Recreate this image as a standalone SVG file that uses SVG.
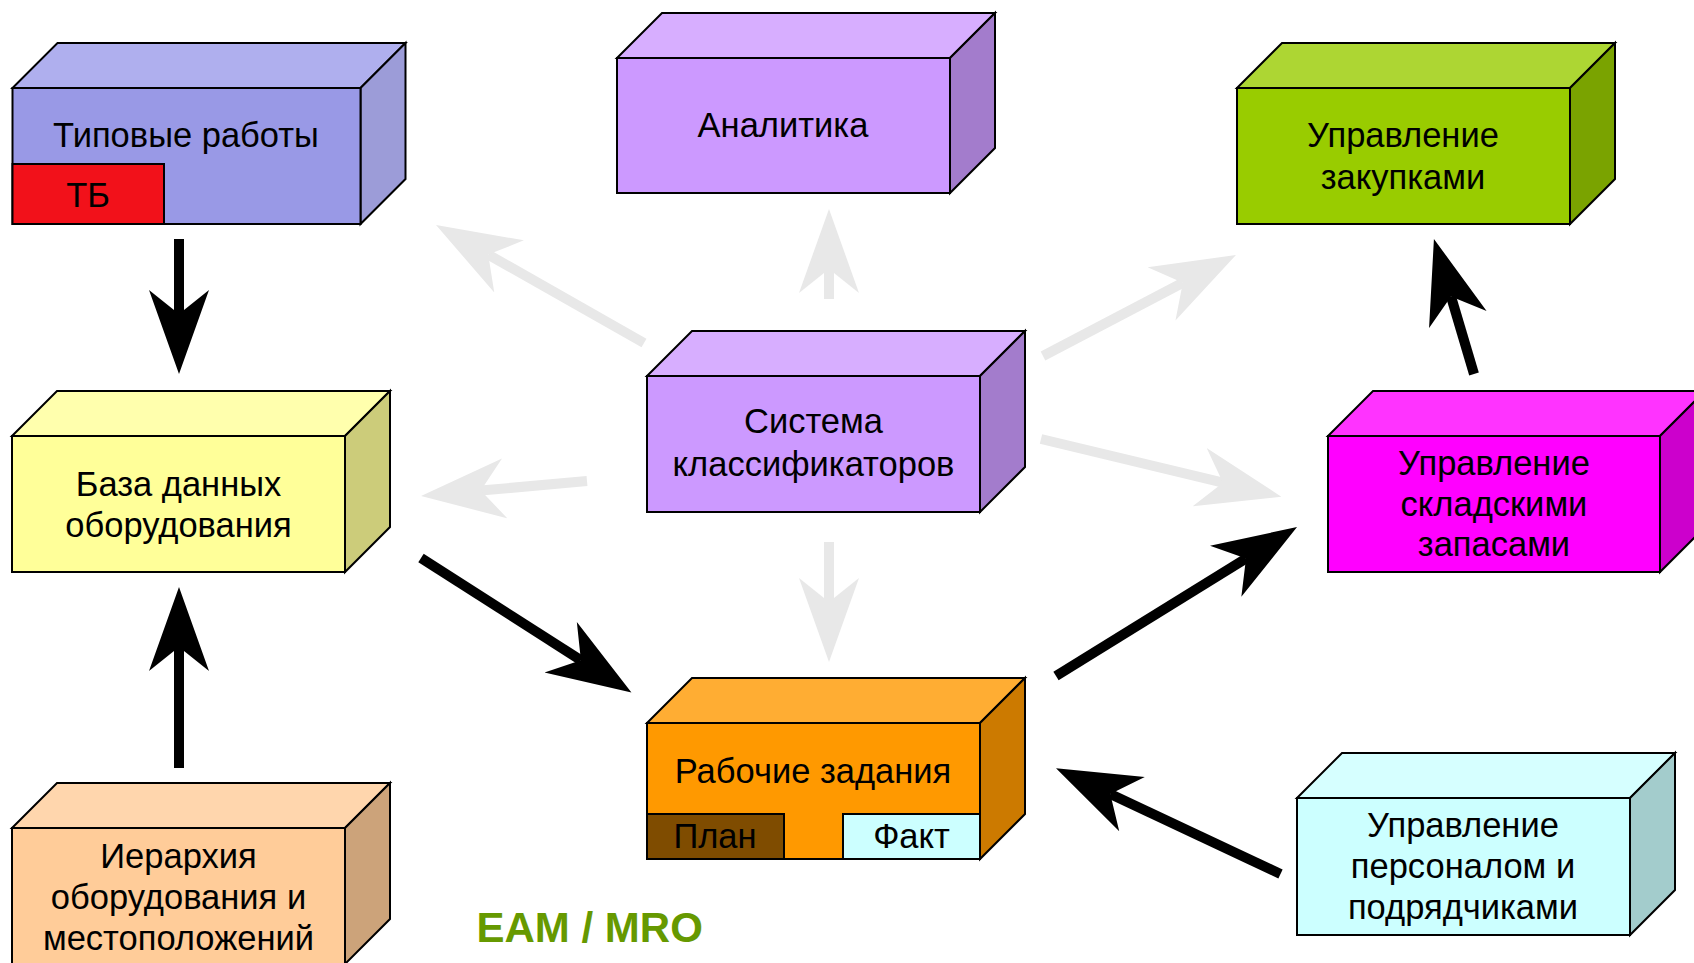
<svg xmlns="http://www.w3.org/2000/svg" width="1694" height="963" viewBox="0 0 1694 963">
<style>
.edge{stroke:#000;stroke-width:2;stroke-linejoin:miter}
.lbl{font-family:"Liberation Sans",Arial,sans-serif;font-size:34.5px;fill:#000;text-anchor:middle}
.blk{stroke:#000;stroke-width:10;fill:none;marker-end:url(#hb)}
.gry{stroke:#E8E8E8;stroke-width:10;fill:none;marker-end:url(#hg)}
.title{font-family:"Liberation Sans",Arial,sans-serif;font-size:42px;font-weight:bold;fill:#669900}
</style>
<defs>
<marker id="hb" markerUnits="userSpaceOnUse" viewBox="0 -31 86 62" markerWidth="86" markerHeight="62" refX="24" refY="0" orient="auto"><path d="M0,-30 L84,0 L0,30 L24,0 Z" fill="#000"/></marker>
<marker id="hg" markerUnits="userSpaceOnUse" viewBox="0 -31 86 62" markerWidth="86" markerHeight="62" refX="24" refY="0" orient="auto"><path d="M0,-30 L84,0 L0,30 L24,0 Z" fill="#E8E8E8"/></marker>
</defs>
<rect width="1694" height="963" fill="#fff"/>

<g id="connectors">
<line class="gry" x1="644" y1="343" x2="488.2" y2="254.6"/>
<line class="gry" x1="829" y1="299" x2="829" y2="269"/>
<line class="gry" x1="1043" y1="356" x2="1182.8" y2="282.8"/>
<line class="gry" x1="587" y1="481" x2="480.8" y2="490.6"/>
<line class="gry" x1="829" y1="542" x2="829" y2="602"/>
<line class="gry" x1="1041" y1="439" x2="1223" y2="482.7"/>
<line class="blk" x1="179" y1="239" x2="179" y2="314"/>
<line class="blk" x1="179" y1="768" x2="179" y2="647"/>
<line class="blk" x1="421" y1="558" x2="580.9" y2="660.2"/>
<line class="blk" x1="1056" y1="676" x2="1246" y2="558.6"/>
<line class="blk" x1="1474" y1="374" x2="1451" y2="296.5"/>
<line class="blk" x1="1280.5" y1="874" x2="1110.3" y2="793.9"/>
</g>

<g id="n-tipovye">
<polygon class="edge" fill="#AFAFEE" points="12.5,88 57.5,43 405.5,43 360.5,88"/>
<polygon class="edge" fill="#9C9CD8" points="360.5,88 405.5,43 405.5,179 360.5,224"/>
<rect class="edge" fill="#9999E6" x="12.5" y="88" width="348" height="136"/>
<text class="lbl" x="186" y="147">Типовые работы</text>
<rect class="edge" fill="#F2111A" x="12.5" y="164" width="151.5" height="60"/>
<text class="lbl" x="88" y="207">ТБ</text>
</g>

<g id="n-analitika">
<polygon class="edge" fill="#D7AEFF" points="617,58 662,13 995,13 950,58"/>
<polygon class="edge" fill="#A37CCC" points="950,58 995,13 995,148 950,193"/>
<rect class="edge" fill="#CC99FF" x="617" y="58" width="333" height="135"/>
<text class="lbl" x="783" y="137">Аналитика</text>
</g>

<g id="n-zakupki">
<polygon class="edge" fill="#ADD633" points="1237,88 1282,43 1615,43 1570,88"/>
<polygon class="edge" fill="#7AA300" points="1570,88 1615,43 1615,179 1570,224"/>
<rect class="edge" fill="#99CC00" x="1237" y="88" width="333" height="136"/>
<text class="lbl" x="1403" y="147">Управление</text>
<text class="lbl" x="1403" y="189">закупками</text>
</g>

<g id="n-baza">
<polygon class="edge" fill="#FFFFAD" points="12,436 57,391 390,391 345,436"/>
<polygon class="edge" fill="#CCCC7A" points="345,436 390,391 390,527 345,572"/>
<rect class="edge" fill="#FFFF99" x="12" y="436" width="333" height="136"/>
<text class="lbl" x="178.5" y="496">База данных</text>
<text class="lbl" x="178.5" y="537">оборудования</text>
</g>

<g id="n-sistema">
<polygon class="edge" fill="#D7AEFF" points="647,376 692,331 1025,331 980,376"/>
<polygon class="edge" fill="#A37CCC" points="980,376 1025,331 1025,467 980,512"/>
<rect class="edge" fill="#CC99FF" x="647" y="376" width="333" height="136"/>
<text class="lbl" x="813.5" y="433">Система</text>
<text class="lbl" x="813.5" y="476">классификаторов</text>
</g>

<g id="n-sklad">
<polygon class="edge" fill="#FF33FF" points="1328,436 1373,391 1705,391 1660,436"/>
<polygon class="edge" fill="#CC00CC" points="1660,436 1705,391 1705,527 1660,572"/>
<rect class="edge" fill="#FF00FF" x="1328" y="436" width="332" height="136"/>
<text class="lbl" x="1494" y="475">Управление</text>
<text class="lbl" x="1494" y="516">складскими</text>
<text class="lbl" x="1494" y="556">запасами</text>
</g>

<g id="n-ierarhiya">
<polygon class="edge" fill="#FFD6AD" points="12,828 57,783 390,783 345,828"/>
<polygon class="edge" fill="#CCA37A" points="345,828 390,783 390,919 345,964"/>
<rect class="edge" fill="#FFCC99" x="12" y="828" width="333" height="136"/>
<text class="lbl" x="178.5" y="868">Иерархия</text>
<text class="lbl" x="178.5" y="909">оборудования и</text>
<text class="lbl" x="178.5" y="950">местоположений</text>
</g>

<g id="n-rabochie">
<polygon class="edge" fill="#FFAD33" points="647,723 692,678 1025,678 980,723"/>
<polygon class="edge" fill="#CC7A00" points="980,723 1025,678 1025,814 980,859"/>
<rect class="edge" fill="#FF9900" x="647" y="723" width="333" height="136"/>
<text class="lbl" x="813" y="783">Рабочие задания</text>
<rect class="edge" fill="#7F4C00" x="647" y="814" width="137" height="45"/>
<text class="lbl" x="715" y="848">План</text>
<rect class="edge" fill="#CCFFFF" x="843" y="814" width="137" height="45"/>
<text class="lbl" x="911.5" y="848">Факт</text>
</g>

<g id="n-personal">
<polygon class="edge" fill="#D6FFFF" points="1297,798 1342,753 1675,753 1630,798"/>
<polygon class="edge" fill="#A3CCCC" points="1630,798 1675,753 1675,890 1630,935"/>
<rect class="edge" fill="#CCFFFF" x="1297" y="798" width="333" height="137"/>
<text class="lbl" x="1463" y="837">Управление</text>
<text class="lbl" x="1463" y="878">персоналом и</text>
<text class="lbl" x="1463" y="919">подрядчиками</text>
</g>

<text class="title" x="476.5" y="942">EAM / MRO</text>
</svg>
